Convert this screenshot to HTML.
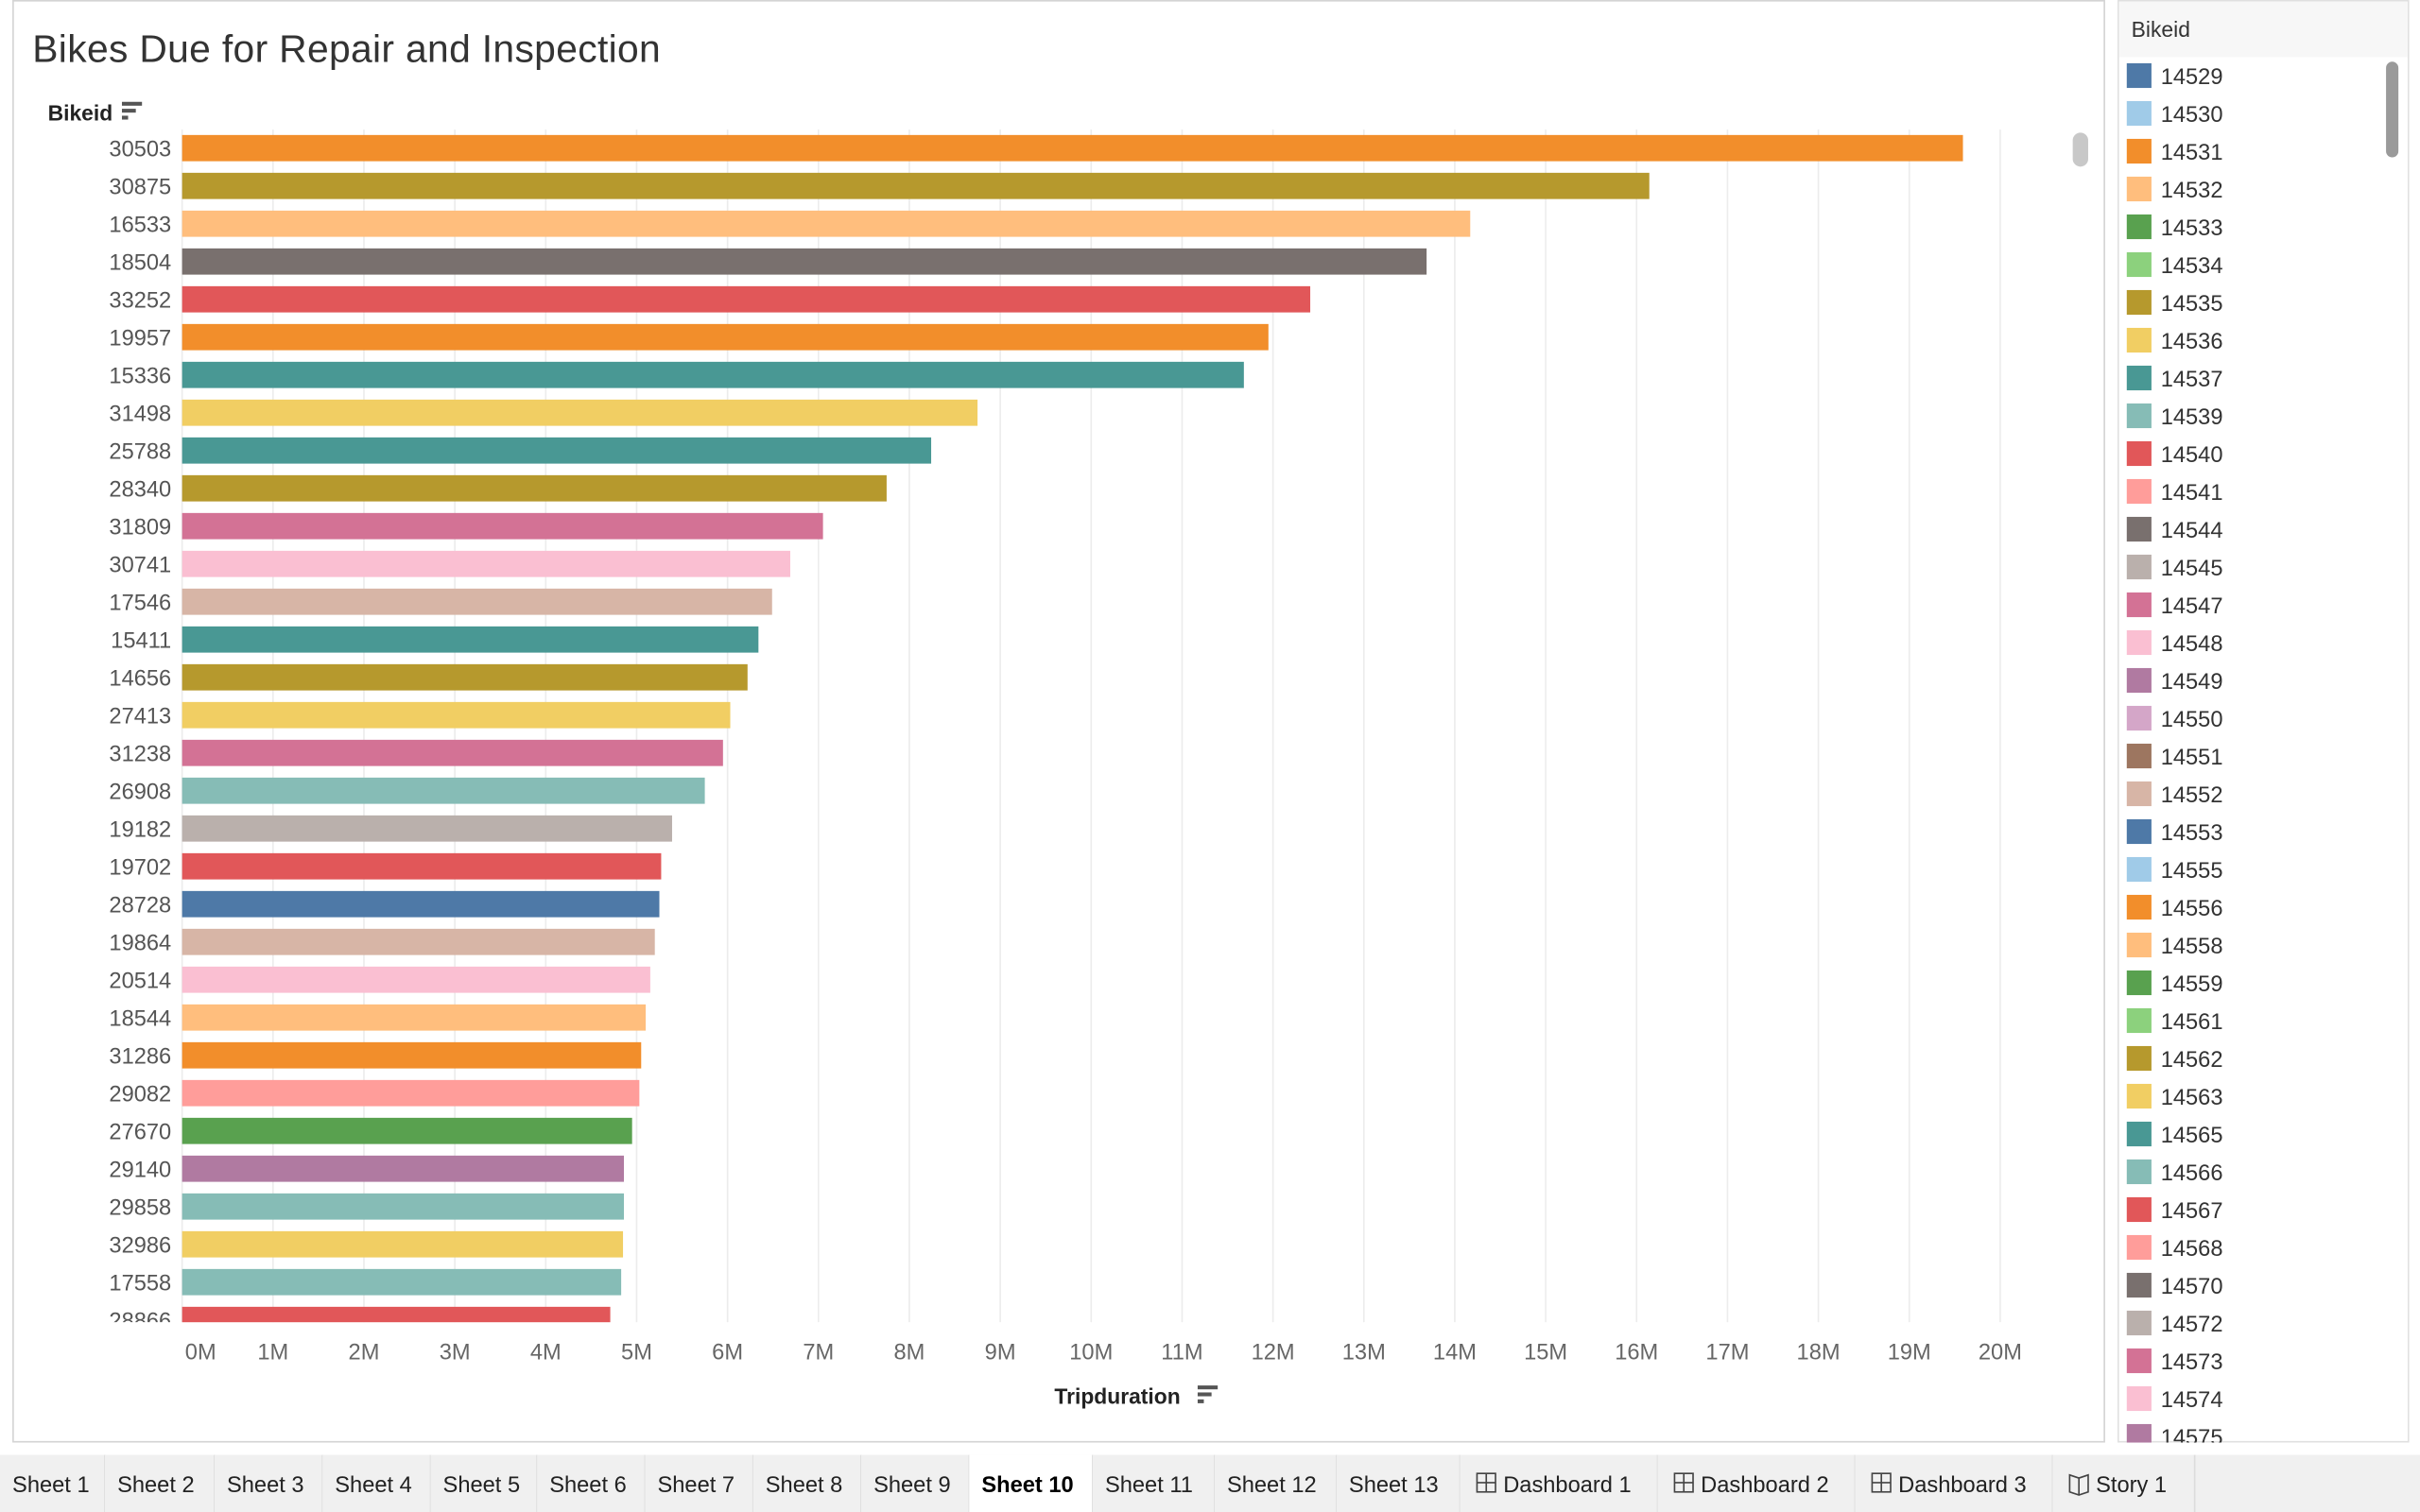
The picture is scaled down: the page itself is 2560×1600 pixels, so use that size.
<!DOCTYPE html>
<html><head><meta charset="utf-8"><style>
html,body{margin:0;padding:0;background:#fff;width:2560px;height:1600px;overflow:hidden}
svg{display:block;font-family:"Liberation Sans",sans-serif}
</style></head><body>
<svg id="chart" width="2560" height="1600" viewBox="0 0 1568 980">
<rect x="0" y="0" width="1568" height="980" fill="#fff"/>
<rect x="8.5" y="0.5" width="1355" height="934" fill="#fff" stroke="#d4d4d4"/>
<text x="21" y="40" font-size="25" fill="#333" textLength="407">Bikes Due for Repair and Inspection</text>
<text x="31" y="78" font-size="14" font-weight="bold" fill="#222">Bikeid</text>
<g fill="#555"><rect x="79" y="66" width="13" height="2.5"/><rect x="79" y="70.5" width="9" height="2.5"/><rect x="79" y="75" width="4" height="2.5"/></g>
<g id="grid"></g>
<g id="bars"></g>
<g id="ylabels"></g>
<g id="xlabels"></g>
<rect x="1343" y="86" width="10" height="22" rx="5" fill="#c8c8c8"/>
<text x="724" y="910" font-size="14" font-weight="bold" fill="#222" text-anchor="middle">Tripduration</text>
<g fill="#555"><rect x="776" y="898" width="13" height="2.5"/><rect x="776" y="902.5" width="9" height="2.5"/><rect x="776" y="907" width="4" height="2.5"/></g>
<rect x="1372.5" y="0.5" width="188" height="934" fill="#fff" stroke="#e0e0e0"/>
<rect x="1373" y="1" width="187" height="36" fill="#f7f7f7"/>
<text x="1381" y="24" font-size="14" fill="#333">Bikeid</text>
<rect x="1546" y="40" width="8" height="62" rx="4" fill="#9a9a9a"/>
<g id="legend"></g>
<rect x="0" y="943" width="1568" height="37" fill="#f0f0f0"/>
<g id="tabs"></g>
</svg>
<script>
const categories=["30503","30875","16533","18504","33252","19957","15336","31498","25788","28340","31809","30741","17546","15411","14656","27413","31238","26908","19182","19702","28728","19864","20514","18544","31286","29082","27670","29140","29858","32986","17558","28866"];
const values=[19.59,16.14,14.17,13.69,12.41,11.95,11.68,8.75,8.24,7.75,7.05,6.69,6.49,6.34,6.22,6.03,5.95,5.75,5.39,5.27,5.25,5.2,5.15,5.1,5.05,5.03,4.95,4.86,4.86,4.85,4.83,4.71];
const barColors=["#f28e2b","#b6992d","#ffbe7d","#79706e","#e15759","#f28e2b","#499894","#f1ce63","#499894","#b6992d","#d37295","#fabfd2","#d7b5a6","#499894","#b6992d","#f1ce63","#d37295","#86bcb6","#bab0ac","#e15759","#4e79a7","#d7b5a6","#fabfd2","#ffbe7d","#f28e2b","#ff9d9a","#59a14f","#b07aa1","#86bcb6","#f1ce63","#86bcb6","#e15759"];
const tickLabels=["0M","1M","2M","3M","4M","5M","6M","7M","8M","9M","10M","11M","12M","13M","14M","15M","16M","17M","18M","19M","20M"];
const tickValues=[0,1,2,3,4,5,6,7,8,9,10,11,12,13,14,15,16,17,18,19,20];
const legendIds=["14529","14530","14531","14532","14533","14534","14535","14536","14537","14539","14540","14541","14544","14545","14547","14548","14549","14550","14551","14552","14553","14555","14556","14558","14559","14561","14562","14563","14565","14566","14567","14568","14570","14572","14573","14574","14575"];
const palette=["#4e79a7","#a0cbe8","#f28e2b","#ffbe7d","#59a14f","#8cd17d","#b6992d","#f1ce63","#499894","#86bcb6","#e15759","#ff9d9a","#79706e","#bab0ac","#d37295","#fabfd2","#b07aa1","#d4a6c8","#9d7660","#d7b5a6"];
const tabNames=["Sheet 1","Sheet 2","Sheet 3","Sheet 4","Sheet 5","Sheet 6","Sheet 7","Sheet 8","Sheet 9","Sheet 10","Sheet 11","Sheet 12","Sheet 13","Dashboard 1","Dashboard 2","Dashboard 3","Story 1"];
const tabEdges=[0,68,139,209,279,348,418,488,558,628,708,787,866,946,1074,1202,1330,1422];
const NS="http://www.w3.org/2000/svg";
function mk(t,a,p){const e=document.createElementNS(NS,t);for(const k in a)e.setAttribute(k,a[k]);p.appendChild(e);return e;}
const x0=118,pxPerM=58.9,plotTop=84,plotBottom=857,rowH=24.5,barH=17,firstY=96;
const xs=v=>x0+v*pxPerM;
const ys=i=>firstY+i*rowH;
const defs=mk('defs',{},document.getElementById('chart'));const cp=mk('clipPath',{id:'clipPlot'},defs);mk('rect',{x:0,y:0,width:1568,height:plotBottom},cp);
const grid=document.getElementById('grid');
tickValues.forEach(v=>{const l=mk('line',{x1:xs(v),x2:xs(v),y1:plotTop,y2:plotBottom,stroke:'#ececec','stroke-width':1},grid);

});
const bars=document.getElementById('bars'),yl=document.getElementById('ylabels');
categories.forEach((c,i)=>{const cy=ys(i);
 if(cy-barH/2>plotBottom)return;
 const h=Math.min(barH,plotBottom-(cy-barH/2));
 const r=mk('rect',{x:x0,y:cy-barH/2,width:xs(values[i])-x0,height:h,fill:barColors[i]},bars);
 
 
 const t=mk('text',{x:111,y:cy+5.5,'font-size':14.5,fill:'#555','text-anchor':'end','clip-path':'url(#clipPlot)'},yl);t.textContent=c;
 
 
});
const xl=document.getElementById('xlabels');
tickValues.forEach((v,i)=>{const t=mk('text',{x:v===0?xs(v)+12:xs(v),y:881,'font-size':14.5,fill:'#666','text-anchor':'middle'},xl);t.textContent=tickLabels[i];
 
 });
const lg=document.getElementById('legend');
legendIds.forEach((id,i)=>{const cy=49+i*24.5;if(cy>935)return;
 const g=mk('g',{},lg);
 
 
 mk('rect',{x:1378,y:cy-8,width:16,height:16,fill:palette[i%20]},g);
 const t=mk('text',{x:1400,y:cy+5.5,'font-size':14.5,fill:'#333'},g);t.textContent=id;});
mk('rect',{x:1373,y:935,width:187,height:8,fill:'#fff'},lg);
const tabs=document.getElementById('tabs');
tabNames.forEach((n,i)=>{const isDash=n.startsWith('Dash'),isStory=n.startsWith('Story');
 const tx=tabEdges[i],w=tabEdges[i+1]-tabEdges[i];
 const g=mk('g',{},tabs);
 
 
 const active=n==='Sheet 10';
 mk('rect',{x:tx,y:943,width:w,height:37,fill:active?'#fff':'#f0f0f0'},g);
 mk('line',{x1:tx+w,x2:tx+w,y1:943,y2:980,stroke:'#dcdcdc'},g);
 let lx=tx+8;
 if(isDash){mk('rect',{x:lx+3,y:955,width:12,height:12,fill:'none',stroke:'#444'},g);mk('line',{x1:lx+9,x2:lx+9,y1:955,y2:967,stroke:'#444'},g);mk('line',{x1:lx+3,x2:lx+15,y1:961,y2:961,stroke:'#444'},g);lx+=20;}
 if(isStory){mk('path',{d:`M${lx+3} 956 L${lx+9} 958 L${lx+15} 956 L${lx+15} 967 L${lx+9} 969 L${lx+3} 967 Z M${lx+9} 958 V969`,fill:'none',stroke:'#444'},g);lx+=20;}
 const t=mk('text',{x:lx,y:967,'font-size':14.5,fill:active?'#000':'#222','font-weight':active?'bold':'normal'},g);t.textContent=n;
});
</script>
</body></html>
